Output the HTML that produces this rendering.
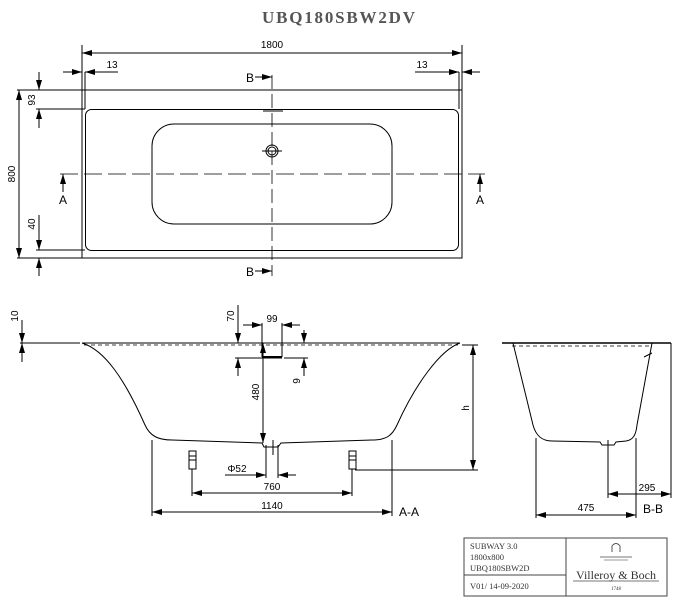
<!DOCTYPE html>
<html><head><style>body{margin:0;background:#fff}svg{display:block}</style></head><body>
<svg width="691" height="611" viewBox="0 0 691 611" xmlns="http://www.w3.org/2000/svg" font-family="Liberation Sans, sans-serif">
<defs>
<marker id="a" viewBox="0 0 10 6" refX="10" refY="3" markerWidth="10" markerHeight="6" orient="auto-start-reverse" markerUnits="userSpaceOnUse"><path d="M0,0L10,3L0,6z" fill="#000"/></marker>
</defs>
<text x="262" y="23" font-family="Liberation Serif, serif" font-size="17" fill="#555" textLength="153" font-weight="bold">UBQ180SBW2DV</text>
<g stroke="#000" stroke-width="1" fill="none">
<!-- plan -->
<rect x="82" y="90" width="380" height="168"/>
<rect x="85.5" y="109.5" width="373" height="141" rx="6"/>
<rect x="152" y="124" width="240" height="100" rx="22"/>
<circle cx="272" cy="151" r="6"/><circle cx="272" cy="151" r="4"/>
<line x1="262" y1="151" x2="282" y2="151"/><line x1="263" y1="111" x2="283" y2="111"/>
<line x1="60" y1="174" x2="485" y2="174" stroke-dasharray="18,6" stroke-width="0.8"/>
<line x1="272" y1="75" x2="272" y2="276" stroke-dasharray="14,5" stroke-width="0.8"/>
<line x1="82" y1="45" x2="82" y2="90"/><line x1="462" y1="45" x2="462" y2="90"/>
<line x1="82" y1="53" x2="462" y2="53" marker-start="url(#a)" marker-end="url(#a)"/>
<line x1="63" y1="72" x2="82" y2="72" marker-end="url(#a)"/><line x1="85" y1="72" x2="118" y2="72" marker-start="url(#a)" transform="translate(0,0)"/>
<line x1="415" y1="72" x2="459" y2="72" marker-end="url(#a)"/><line x1="462" y1="72" x2="480" y2="72" marker-start="url(#a)"/>
<line x1="85" y1="72" x2="85" y2="109"/><line x1="459" y1="72" x2="459" y2="109"/>
<line x1="17" y1="90" x2="82" y2="90"/><line x1="17" y1="258" x2="82" y2="258"/>
<line x1="19" y1="90" x2="19" y2="258" marker-start="url(#a)" marker-end="url(#a)"/>
<line x1="39" y1="72" x2="39" y2="90" marker-end="url(#a)"/><line x1="39" y1="109" x2="39" y2="128" marker-start="url(#a)"/>
<line x1="36" y1="109" x2="85" y2="109"/><line x1="36" y1="250" x2="85" y2="250"/>
<line x1="39" y1="215" x2="39" y2="250" marker-end="url(#a)"/><line x1="39" y1="258" x2="39" y2="276" marker-start="url(#a)"/>
<line x1="255" y1="77" x2="272" y2="77" marker-end="url(#a)"/><line x1="255" y1="271" x2="272" y2="271" marker-end="url(#a)"/>
<line x1="63" y1="192" x2="63" y2="174" marker-end="url(#a)"/><line x1="480" y1="192" x2="480" y2="174" marker-end="url(#a)"/>
<!-- A-A -->
<line x1="20" y1="343" x2="80" y2="343"/>
<line x1="82" y1="343" x2="460" y2="343"/>
<line x1="84" y1="345" x2="458" y2="345" stroke-dasharray="4,3" stroke-width="0.7"/>
<path d="M82,343 C105,350 125,380 145,425 C150,436 158,440 172,440 L262,443 L264,447 L278,447 L281,443 L372,440 C386,440 392,436 397,425 C415,385 440,350 460,343"/>
<line x1="22" y1="320" x2="22" y2="343" marker-end="url(#a)"/><line x1="22" y1="343" x2="22" y2="362" marker-start="url(#a)"/>
<line x1="238" y1="305" x2="238" y2="343" marker-end="url(#a)"/><line x1="238" y1="358" x2="238" y2="376" marker-start="url(#a)"/>
<line x1="235" y1="358" x2="282" y2="358"/><line x1="284" y1="358" x2="308" y2="358"/>
<line x1="262" y1="357" x2="282" y2="357" stroke-width="2"/>
<line x1="262" y1="323" x2="262" y2="357"/><line x1="282" y1="323" x2="282" y2="357"/>
<line x1="243" y1="325" x2="262" y2="325" marker-end="url(#a)"/><line x1="282" y1="325" x2="300" y2="325" marker-start="url(#a)"/>
<line x1="304" y1="330" x2="304" y2="343" marker-end="url(#a)"/><line x1="304" y1="358" x2="304" y2="376" marker-start="url(#a)"/>
<line x1="263" y1="343" x2="263" y2="443" marker-start="url(#a)" marker-end="url(#a)"/>
<line x1="473" y1="345" x2="473" y2="470" marker-start="url(#a)" marker-end="url(#a)"/>
<line x1="462" y1="345" x2="478" y2="345"/><line x1="355" y1="470" x2="478" y2="470"/>
<rect x="189" y="451" width="7" height="18"/><line x1="189" y1="456" x2="196" y2="456"/><line x1="189" y1="460" x2="196" y2="460"/>
<rect x="349" y="451" width="7" height="18"/><line x1="349" y1="456" x2="356" y2="456"/><line x1="349" y1="460" x2="356" y2="460"/>
<line x1="266" y1="445" x2="266" y2="478"/><line x1="278" y1="445" x2="278" y2="478"/><line x1="273" y1="440" x2="273" y2="455"/>
<line x1="225" y1="475" x2="266" y2="475" marker-end="url(#a)"/><line x1="278" y1="475" x2="296" y2="475" marker-start="url(#a)"/>
<line x1="192" y1="469" x2="192" y2="496"/><line x1="352" y1="469" x2="352" y2="496"/>
<line x1="192" y1="493" x2="352" y2="493" marker-start="url(#a)" marker-end="url(#a)"/>
<line x1="152" y1="440" x2="152" y2="516"/><line x1="392" y1="440" x2="392" y2="516"/>
<line x1="152" y1="512" x2="392" y2="512" marker-start="url(#a)" marker-end="url(#a)"/>
<!-- B-B -->
<line x1="502" y1="343" x2="671" y2="343" stroke-width="1.6"/>
<line x1="512" y1="346" x2="652" y2="346" stroke-dasharray="4,3" stroke-width="0.7"/>
<path d="M513,343 L533,425 C536,436 542,441 552,441 L600,442 L602,445 L614,445 L616,442 L626,441 C633,440 636,435 637,425 L652,343"/>
<line x1="644" y1="357" x2="652" y2="353"/>
<line x1="671" y1="343" x2="671" y2="498"/>
<line x1="536" y1="438" x2="536" y2="518"/><line x1="636" y1="438" x2="636" y2="518"/><line x1="608" y1="440" x2="608" y2="498"/>
<line x1="608" y1="494" x2="671" y2="494" marker-start="url(#a)" marker-end="url(#a)"/>
<line x1="536" y1="515" x2="636" y2="515" marker-start="url(#a)" marker-end="url(#a)"/>
<!-- title block -->
<rect x="464" y="538" width="203" height="58" stroke="#444"/>
<line x1="566" y1="538" x2="566" y2="596" stroke="#444"/>
<line x1="464" y1="575" x2="566" y2="575" stroke="#444"/>
<path d="M612,552 L612,546 Q616,541 620,546 L620,552" stroke="#555"/>
<line x1="600" y1="557" x2="632" y2="557" stroke="#777"/><line x1="604" y1="560" x2="628" y2="560" stroke="#999"/>
<line x1="573" y1="581" x2="659" y2="581" stroke="#777"/>
</g>
<g font-size="10" fill="#000" text-anchor="middle">
<text x="272" y="48">1800</text>
<text x="112" y="68">13</text><text x="422" y="68">13</text>
<text transform="translate(15,174) rotate(-90)">800</text>
<text transform="translate(35,100) rotate(-90)">93</text>
<text transform="translate(35,224) rotate(-90)">40</text>
<text x="250" y="82" font-size="12">B</text><text x="250" y="276" font-size="12">B</text>
<text x="63" y="204" font-size="12">A</text><text x="480" y="204" font-size="12">A</text>
<text transform="translate(18,316) rotate(-90)">10</text>
<text transform="translate(234,316) rotate(-90)">70</text>
<text x="272" y="322">99</text>
<text transform="translate(300,381) rotate(-90)">9</text>
<text transform="translate(259,392) rotate(-90)">480</text>
<text transform="translate(469,408) rotate(-90)">h</text>
<text x="237" y="472">Φ52</text>
<text x="272" y="490">760</text>
<text x="272" y="509">1140</text>
<text x="409" y="516" font-size="12">A-A</text>
<text x="647" y="491">295</text>
<text x="586" y="511">475</text>
<text x="653" y="513" font-size="12">B-B</text>
</g>
<g font-family="Liberation Serif, serif" fill="#333" font-size="8.5">
<text x="470" y="549">SUBWAY 3.0</text>
<text x="470" y="560">1800x800</text>
<text x="470" y="571">UBQ180SBW2D</text>
<text x="470" y="589">V01/ 14-09-2020</text>
<text x="616" y="579" text-anchor="middle" font-size="12">Villeroy &amp; Boch</text>
<text x="616" y="590" text-anchor="middle" font-size="5">1748</text>
</g>
</svg>
</body></html>
